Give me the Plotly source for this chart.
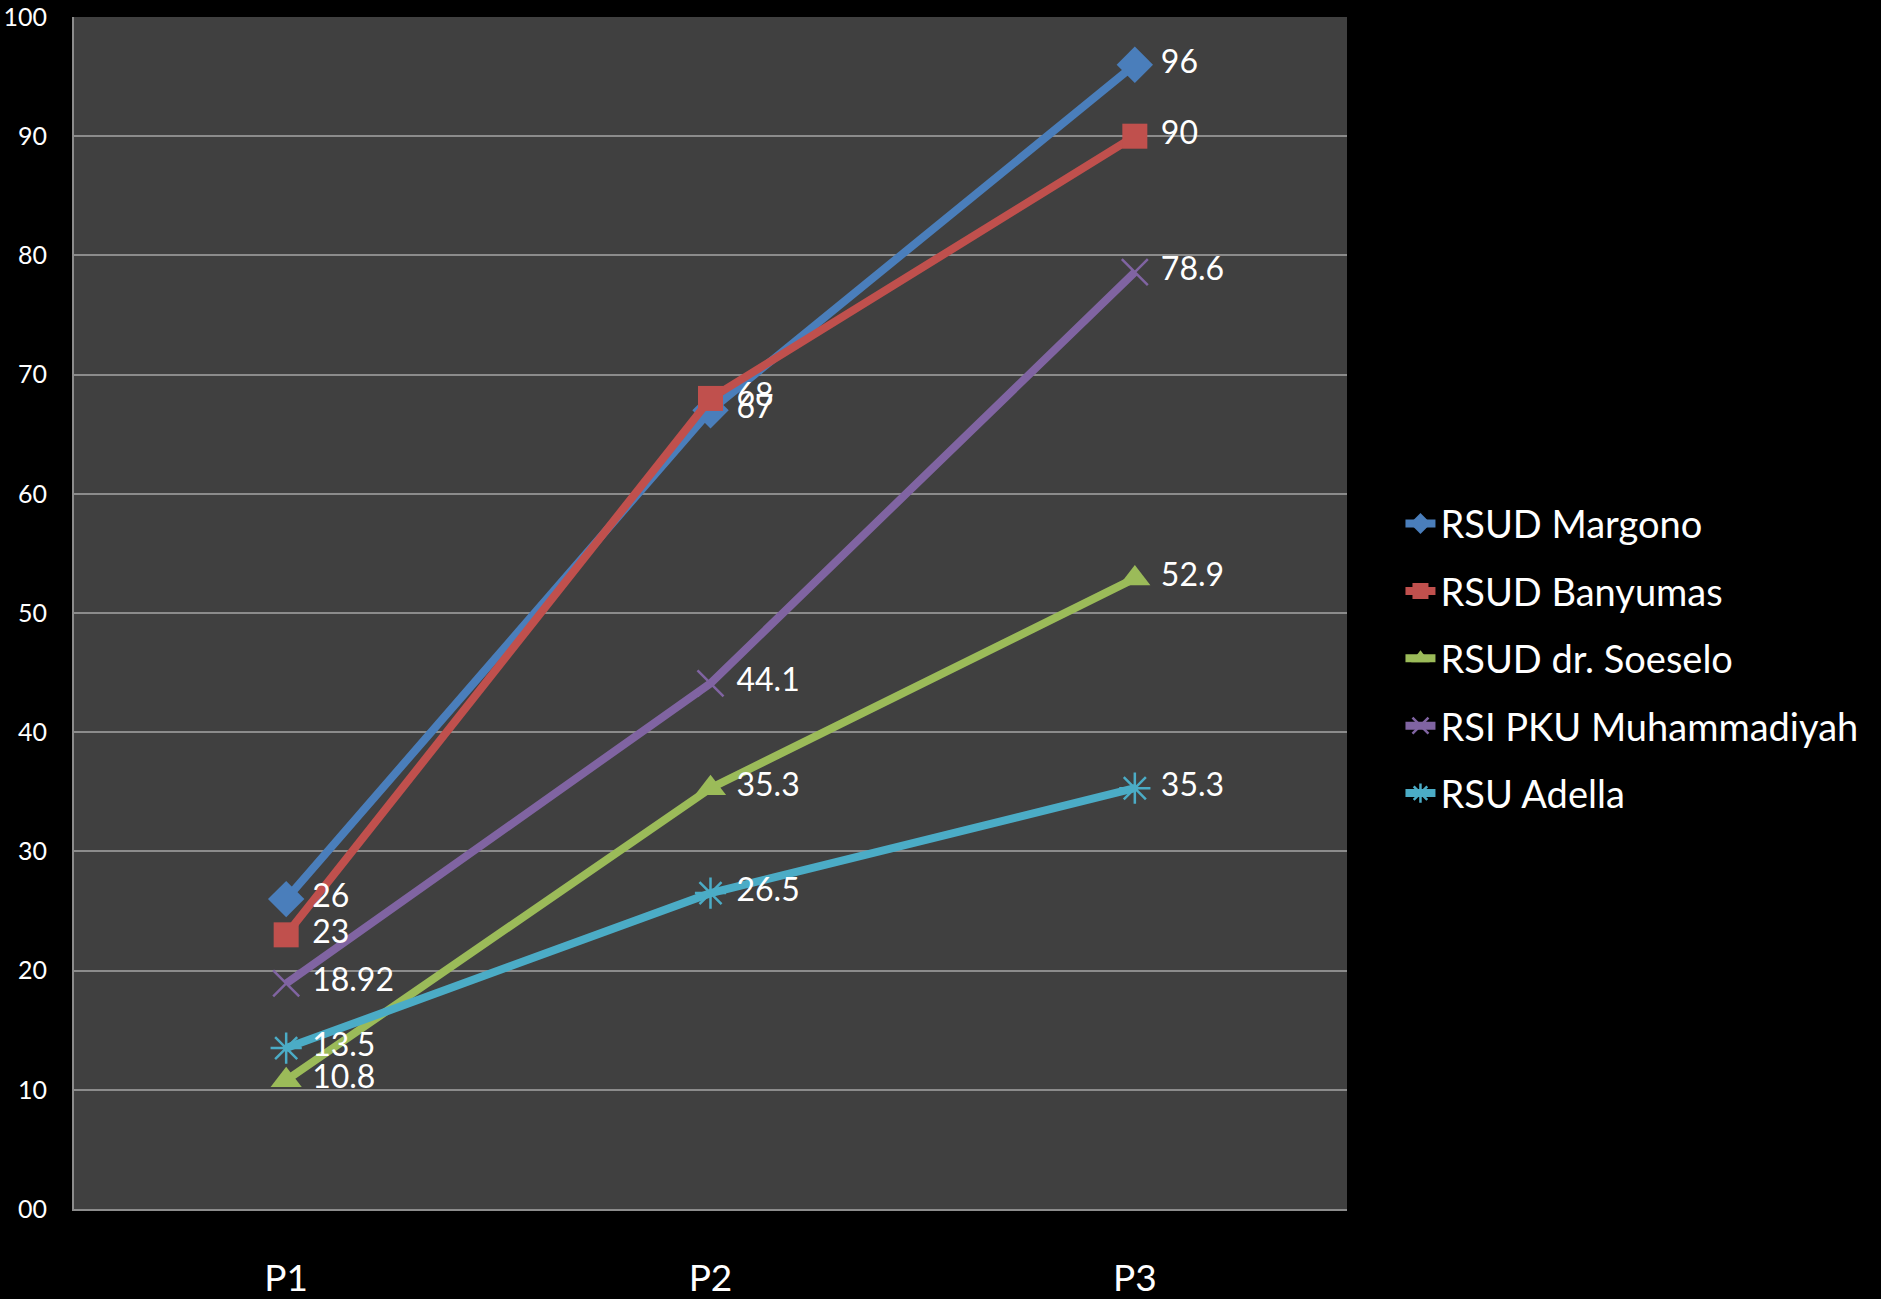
import plotly.graph_objects as go

categories = ["P1", "P2", "P3"]
series_names = ["RSUD Margono", "RSUD Banyumas", "RSUD dr. Soeselo", "RSI PKU Muhammadiyah", "RSU Adella"]
margono = [26, 67, 96]
banyumas = [23, 68, 90]
soeselo = [10.8, 35.3, 52.9]
pku = [18.92, 44.1, 78.6]
adella = [13.5, 26.5, 35.3]
label_margono = ["26", "67", "96"]
label_banyumas = ["23", "68", "90"]
label_soeselo = ["10.8", "35.3", "52.9"]
label_pku = ["18.92", "44.1", "78.6"]
label_adella = ["13.5", "26.5", "35.3"]
y_tick_vals = [0, 10, 20, 30, 40, 50, 60, 70, 80, 90, 100]
y_tick_text = ["00", "10", "20", "30", "40", "50", "60", "70", "80", "90", "100"]

FONT = "Lato, 'Open Sans', sans-serif"

styles = [
    dict(color="#4A7EBB", symbol="diamond", size=28, lw=0),
    dict(color="#C0504D", symbol="square", size=25, lw=0),
    dict(color="#9BBB59", symbol="triangle-up", size=27, lw=0),
    dict(color="#8064A2", symbol="x-thin", size=26, lw=2.5),
    dict(color="#4BACC6", symbol="asterisk", size=26, lw=2.5),
]
values = [margono, banyumas, soeselo, pku, adella]
labels = [label_margono, label_banyumas, label_soeselo, label_pku, label_adella]

fig = go.Figure()
for name, vals, labs, st in zip(series_names, values, labels, styles):
    fig.add_trace(go.Scatter(
        x=categories, y=vals, name=name, mode="lines+markers",
        line=dict(color=st["color"], width=8),
        marker=dict(symbol=st["symbol"], size=st["size"], color=st["color"],
                    line=dict(color=st["color"], width=st["lw"])),
        legendgroup=name,
        cliponaxis=False,
    ))
# data labels (transparent markers give the label offset)
for name, vals, labs in zip(series_names, values, labels):
    fig.add_trace(go.Scatter(
        x=categories, y=vals, mode="markers+text", text=labs,
        textposition="middle right",
        textfont=dict(family=FONT, size=32, color="white"),
        marker=dict(size=40, color="rgba(0,0,0,0)"),
        showlegend=False, hoverinfo="skip", cliponaxis=False,
    ))

fig.update_layout(
    width=1881, height=1299,
    paper_bgcolor="black", plot_bgcolor="#404040",
    margin=dict(l=74, r=534, t=17, b=90),
    font=dict(family=FONT, color="white"),
    showlegend=True,
    legend=dict(
        x=1.042, y=0.462, xanchor="left", yanchor="middle",
        font=dict(family=FONT, size=38, color="white"),
        bgcolor="rgba(0,0,0,0)", tracegroupgap=15,
    ),
    xaxis=dict(
        type="category", range=[-0.5, 2.5], automargin=False,
        showgrid=False, showline=True, linecolor="#8C8C8C", linewidth=2,
        tickfont=dict(family=FONT, size=37, color="white"),
        ticks="", ticklabelstandoff=36, zeroline=False,
    ),
    yaxis=dict(
        range=[0, 100], tickvals=y_tick_vals, ticktext=y_tick_text,
        automargin=False,
        showgrid=True, gridcolor="#8C8C8C", gridwidth=1.5,
        showline=True, linecolor="#8C8C8C", linewidth=2,
        tickfont=dict(family=FONT, size=25, color="white"),
        ticks="", ticklabelstandoff=20, zeroline=False,
    ),
)

fig.write_html("out.html")
